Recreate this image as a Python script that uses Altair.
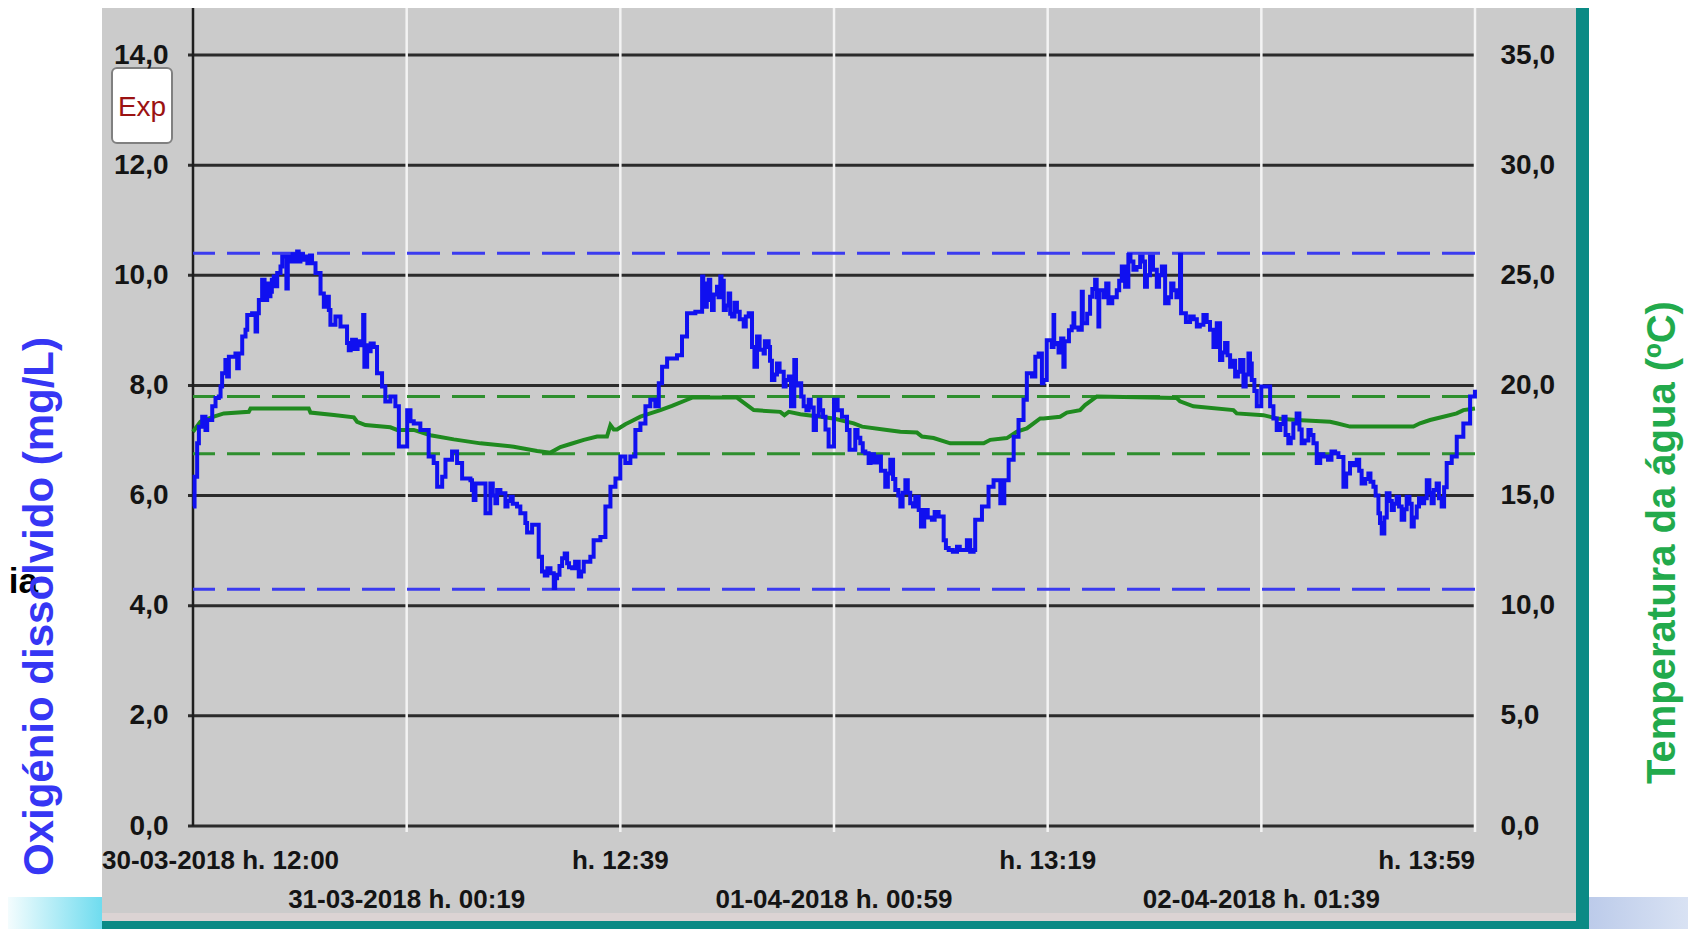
import altair as alt
import pandas as pd

# ---------------- data ----------------
# hours since 30-03-2018 12:00
o2_hours = [
    0.00, 0.09, 0.24, 0.34, 0.53, 0.72, 0.82, 1.11, 1.30, 1.49,
    1.59, 1.68, 1.87, 1.97, 2.07, 2.45, 2.55, 2.64, 2.84, 3.03,
    3.13, 3.41, 3.61, 3.70, 3.80, 3.99, 4.13, 4.28, 4.47, 4.66,
    4.86, 5.05, 5.15, 5.39, 5.47, 6.01, 6.10, 6.49, 6.87, 7.07,
    7.36, 7.55, 7.74, 7.84, 7.93, 8.22, 8.51, 8.89, 8.99, 9.28,
    9.66, 9.82, 9.89, 10.05, 10.43, 10.62, 10.91, 11.10, 11.39, 11.68,
    11.88, 12.36, 12.55, 12.74, 13.12, 13.60, 13.89, 14.09, 14.38, 14.57,
    14.95, 15.24, 15.53, 16.01, 16.20, 16.49, 16.88, 17.16, 17.45, 17.74,
    18.03, 18.32, 18.70, 18.89, 19.18, 19.28, 19.57, 19.95, 20.14, 20.63,
    20.82, 21.01, 21.30, 21.59, 21.88, 22.26, 22.55, 22.93, 23.12, 23.51,
    23.80, 24.09, 24.38, 24.66, 24.95, 25.24, 25.53, 25.82, 26.11, 26.39,
    26.68, 26.88, 27.07, 27.36, 27.93, 28.22, 28.51, 28.99, 29.38, 29.57,
    29.76, 29.95, 30.24, 30.43, 30.63, 30.91, 31.11, 31.39, 31.78, 32.07,
    32.26, 32.40, 32.55, 32.93, 33.22, 33.41, 33.70, 34.09, 34.38, 34.51,
    34.70, 34.95, 35.24, 35.53, 35.82, 36.11, 36.36, 36.68, 36.99, 37.20,
    37.45, 37.74, 37.89, 38.22, 38.51, 38.80, 38.99, 39.47, 39.95, 40.24,
    40.53, 40.82, 41.11, 41.39, 41.68, 41.88, 42.01, 42.20, 42.64, 43.03,
    43.32, 43.61, 44.09, 44.47, 44.66, 45.05, 45.14, 45.53, 45.91, 46.20,
    46.59, 46.82, 47.07, 47.36, 47.64, 47.93, 48.12, 48.41, 48.61, 48.80,
    48.99,
    49.08, 49.27, 49.56, 49.66, 49.70, 49.85, 50.23, 50.30, 50.71, 50.81,
    50.86, 51.10, 51.29, 51.35, 51.77, 52.06, 52.25, 52.30, 52.83, 53.31,
    53.60, 53.79, 53.98, 54.27, 54.66, 54.94, 55.23, 55.62, 55.91, 56.10,
    56.58, 56.96, 57.02, 57.54, 57.93, 58.31, 58.69, 58.89, 59.08, 59.27,
    59.56, 59.85, 60.14, 60.43, 60.62, 60.91, 61.10, 61.39, 61.65, 62.16,
    62.54, 62.93, 63.21, 63.50, 63.69, 63.98, 64.37, 64.66, 64.85, 65.23,
    65.91, 66.39, 66.77, 67.16, 67.44, 67.83, 68.12, 68.41, 68.60, 68.89,
    69.18, 69.46, 69.75, 70.04, 70.33, 70.62, 70.91, 71.20, 71.48, 71.77,
    72.06, 72.35, 72.64, 72.93, 73.31, 73.70, 73.98,
]
o2_values = [
    5.80, 6.34, 6.95, 7.25, 7.43, 7.19, 7.37, 7.62, 7.77, 7.80,
    7.98, 8.22, 8.46, 8.16, 8.52, 8.58, 8.31, 8.58, 8.89, 9.01,
    9.28, 9.31, 8.98, 9.31, 9.55, 9.92, 9.55, 9.85, 9.70, 9.98,
    10.04, 10.16, 10.34, 9.76, 10.34, 10.43, 10.25, 10.34, 10.22, 10.04,
    9.67, 9.43, 9.61, 9.37, 9.10, 9.25, 9.07, 8.77, 8.64, 8.83,
    8.73, 9.28, 8.34, 8.73, 8.70, 8.22, 7.98, 7.71, 7.80, 7.62,
    6.89, 7.55, 7.35, 7.31, 7.19, 6.71, 6.59, 6.16, 6.34, 6.65,
    6.80, 6.59, 6.31, 6.28, 5.92, 6.22, 5.68, 6.22, 5.86, 6.04,
    5.80, 5.98, 5.80, 5.68, 5.50, 5.33, 5.47, 4.89, 4.62, 4.59,
    4.32, 4.56, 4.86, 4.77, 4.68, 4.53, 4.80, 4.89, 5.19, 5.25,
    5.80, 6.16, 6.31, 6.71, 6.59, 6.71, 7.19, 7.31, 7.62, 7.74,
    7.62, 8.04, 8.34, 8.49, 8.55, 8.89, 9.31, 9.34, 9.98, 9.43,
    9.92, 9.37, 9.79, 9.98, 9.37, 9.67, 9.25, 9.34, 9.07, 9.31,
    8.70, 8.34, 8.89, 8.58, 8.70, 8.10, 8.40, 7.98, 8.16, 7.62,
    8.46, 8.04, 7.62, 7.74, 7.19, 7.74, 7.43, 6.89, 7.74, 7.55,
    7.43, 7.19, 6.83, 7.19, 6.95, 6.77, 6.59, 6.71, 6.16, 6.65,
    6.10, 5.80, 6.28, 5.86, 5.98, 5.74, 5.44, 5.74, 5.56, 5.62,
    5.19, 5.01, 5.07, 5.01, 5.19, 5.01, 5.56, 5.80, 6.16, 6.28,
    5.86, 6.28, 6.65, 7.07, 7.37, 7.74, 8.22, 8.16, 8.52, 8.58,
    8.04,
    8.10, 8.82, 8.70, 9.28, 8.75, 8.77, 8.34, 8.80, 9.07, 9.31,
    9.05, 9.01, 9.70, 9.13, 9.61, 9.92, 9.07, 9.73, 9.49, 9.73,
    10.16, 9.79, 10.37, 10.10, 10.34, 9.79, 10.34, 9.79, 10.16, 9.49,
    9.73, 10.37, 9.31, 9.25, 9.07, 9.28, 9.01, 8.70, 9.13, 8.46,
    8.77, 8.34, 8.16, 8.46, 7.98, 8.58, 8.10, 7.62, 7.98, 7.62,
    7.19, 7.43, 6.95, 7.31, 7.49, 6.95, 7.19, 6.95, 6.59, 6.71,
    6.77, 6.16, 6.59, 6.65, 6.22, 6.40, 6.16, 5.68, 5.31, 6.04,
    5.74, 5.98, 5.56, 5.98, 5.44, 5.80, 5.86, 6.28, 5.86, 6.22,
    5.80, 6.59, 6.71, 7.07, 7.31, 7.80, 7.92,
]

# extra readings inside the dense (rapidly oscillating) stretches of the trace
o2_detail_hours = [
    4.35, 4.55, 4.75, 5.60, 5.75, 5.90, 6.20, 6.35, 6.60, 6.75,
    9.10, 9.18, 9.40, 9.50, 10.15, 10.25,
    16.10, 16.30, 17.30, 17.55, 18.15, 18.45, 20.30, 20.45, 20.90, 21.15,
    21.45, 21.70, 22.05, 22.40,
    29.45, 29.65, 29.85, 30.05, 30.33, 30.50, 30.75, 31.00, 31.25, 31.55,
    31.90, 32.70, 33.00, 33.30, 33.55, 33.85, 34.20, 34.80, 35.10, 35.40,
    35.65, 35.95, 36.20, 36.50,
    38.35, 38.65, 39.10, 39.30, 39.70, 40.10, 40.40, 40.70, 40.95, 41.25,
    41.55, 42.40, 42.80, 43.45, 43.85, 44.25, 44.85,
    49.95, 50.10, 50.55, 51.60, 51.90, 52.15, 52.55, 52.70, 53.05, 53.45,
    54.10, 54.45, 54.80, 55.05, 55.40, 55.75, 56.30, 56.45, 56.75, 57.30,
    57.75, 58.10, 58.50, 59.40, 59.70, 60.00, 60.30, 60.75, 61.00, 61.25,
    62.35, 62.75, 63.05, 63.35, 63.85, 64.15, 64.50, 65.05, 65.50, 65.70,
    66.10, 66.55, 66.95, 67.30, 67.65, 67.95, 68.25, 68.50, 68.75, 69.05,
    69.30, 69.60, 69.90, 70.20, 70.45, 70.75, 71.05, 71.35, 71.60, 71.90,
    72.20,
]
o2_detail_values = [
    9.62, 9.92, 9.80, 10.25, 10.38, 10.25, 10.38, 10.28, 10.22, 10.36,
    8.66, 8.83, 8.66, 8.80, 8.62, 8.76,
    6.10, 6.22, 6.00, 6.10, 5.90, 5.85, 4.55, 4.68, 4.50, 4.72,
    4.95, 4.70, 4.80, 4.62,
    9.70, 9.85, 9.55, 9.65, 9.60, 9.90, 9.45, 9.30, 9.50, 9.20,
    9.25, 8.65, 8.80, 8.45, 8.20, 8.25, 8.10, 8.00, 7.80, 7.55,
    7.60, 7.45, 7.55, 7.20,
    7.05, 6.80, 6.75, 6.60, 6.45, 6.40, 6.30, 6.00, 6.05, 6.05,
    5.80, 5.60, 5.70, 5.05, 4.98, 5.01, 4.98,
    8.60, 8.85, 9.00, 9.30, 9.75, 9.60, 9.60, 9.85, 9.60, 9.90,
    10.25, 10.15, 10.25, 10.00, 10.10, 10.00, 9.60, 9.85, 9.60, 9.15,
    9.20, 9.10, 9.15, 8.60, 8.55, 8.45, 8.25, 8.20, 8.40, 7.90,
    7.40, 7.30, 7.10, 7.05, 7.20, 7.00, 7.10, 6.75, 6.65, 6.80,
    6.70, 6.40, 6.55, 6.45, 6.30, 6.25, 6.00, 5.50, 5.60, 5.90,
    5.85, 5.80, 5.75, 5.85, 5.60, 5.95, 5.95, 6.05, 6.10, 5.95,
    6.15,
]

temp_hours = [
    0.00, 0.43, 1.20, 1.78, 3.22, 3.32, 6.68, 6.78, 8.13, 9.28,
    9.47, 9.95, 11.39, 11.78, 12.74, 13.70, 15.05, 16.59, 18.51, 19.86,
    20.63, 21.20, 21.78, 22.55, 23.32, 23.89, 24.09, 24.28, 24.47, 24.95,
    25.24, 25.82, 26.39, 26.97, 27.64, 28.51, 28.80, 31.39, 31.68, 32.07,
    32.36, 33.89, 34.13, 34.38, 35.05, 36.20, 36.97, 38.13, 38.61, 40.05,
    40.82, 41.78, 42.07, 42.74, 43.70, 45.63, 46.01, 46.97, 47.55, 48.12,
    48.51, 48.89, 49.08, 50.04, 50.43, 51.19, 51.48, 52.16, 56.77, 56.96,
    57.73, 60.04, 60.23, 61.77, 62.54, 63.69, 65.62, 66.00, 66.77, 70.43,
    70.81, 71.39, 72.16, 72.93, 73.31, 73.98,
]
temp_values = [
    17.90, 18.35, 18.58, 18.73, 18.80, 18.95, 18.95, 18.77, 18.66, 18.55,
    18.35, 18.20, 18.10, 17.98, 17.98, 17.74, 17.55, 17.37, 17.22, 17.02,
    16.95, 17.20, 17.34, 17.53, 17.68, 17.68, 18.20, 18.00, 18.00, 18.24,
    18.35, 18.58, 18.73, 18.88, 19.07, 19.35, 19.45, 19.45, 19.28, 19.05,
    18.88, 18.80, 18.65, 18.80, 18.69, 18.58, 18.50, 18.28, 18.13, 17.98,
    17.90, 17.86, 17.68, 17.61, 17.37, 17.37, 17.53, 17.61, 17.90, 18.05,
    18.28, 18.50, 18.50, 18.58, 18.77, 18.88, 19.11, 19.50, 19.43, 19.28,
    19.05, 18.88, 18.73, 18.65, 18.50, 18.43, 18.35, 18.28, 18.13, 18.13,
    18.28, 18.43, 18.58, 18.73, 18.88, 18.95,
]

tick_hours = [0.0, 12.331, 24.661, 36.992, 49.322, 61.653, 73.983]
tick_labels = ["30-03-2018 h. 12:00", "31-03-2018 h. 00:19", "h. 12:39",
               "01-04-2018 h. 00:59", "h. 13:19", "02-04-2018 h. 01:39", "h. 13:59"]
tick_rows = [1, 2, 1, 2, 1, 2, 1]
tick_pos = ["first", "mid", "mid", "mid", "mid", "mid", "last"]

o2_ticks = [0, 2, 4, 6, 8, 10, 12, 14]
temp_ticks = [0, 5, 10, 15, 20, 25, 30, 35]
o2_limits = [10.4, 4.3]
temp_limits = [19.5, 16.9]

# ---------------- chart ----------------
W, H = 1282, 771
X_DOMAIN = [0, 73.983]
LABEL_FONT = "Liberation Sans, Arial, sans-serif"
ARIAL = "Liberation Sans, Arial, sans-serif"

xs = alt.Scale(domain=X_DOMAIN, nice=False, zero=False)
ys_o2 = alt.Scale(domain=[0, 14], nice=False, zero=False)
ys_t = alt.Scale(domain=[0, 35], nice=False, zero=False)

o2_df = pd.concat([
    pd.DataFrame({"h": o2_hours, "v": o2_values}),
    pd.DataFrame({"h": o2_detail_hours, "v": o2_detail_values}),
]).sort_values("h", kind="stable").reset_index(drop=True)
t_df = pd.DataFrame({"h": temp_hours, "v": temp_values})
ticks_df = pd.DataFrame({"t": tick_hours, "label": tick_labels,
                         "row": tick_rows, "pos": tick_pos})
o2_grid_df = pd.DataFrame({"v": o2_ticks})
o2_lim_df = pd.DataFrame({"v": o2_limits})
t_lim_df = pd.DataFrame({"v": temp_limits})
one = alt.Data(values=[{"k": 1}])


def box(x1, x2, y1, y2, **kw):
    return alt.Chart(one).mark_rect(**kw).encode(
        x=alt.value(x1), x2=alt.value(x2), y=alt.value(y1), y2=alt.value(y2))


grad_left = box(-193, -91, 842, 882, color=alt.LinearGradient(
    gradient="linear", x1=0, x2=1, y1=0, y2=0,
    stops=[alt.GradientStop(color="#ffffff", offset=0),
           alt.GradientStop(color="#6fdcef", offset=1)]))
grad_right = box(1396, 1503, 842, 882, color=alt.LinearGradient(
    gradient="linear", x1=0, x2=1, y1=0, y2=0,
    stops=[alt.GradientStop(color="#bccbea", offset=0),
           alt.GradientStop(color="#dbe4f4", offset=1)]))
panel = box(-91, 1383, -47, 866, color="#cbcbcb")
strip = box(-91, 1383, 858, 866, color="#dbd3d3")
teal_r = box(1383, 1396, -47, 882, color="#0b8a85")
teal_b = box(-91, 1396, 866, 882, color="#0b8a85")

exp_box = alt.Chart(one).mark_rect(
    color="white", stroke="#808080", strokeWidth=2, cornerRadius=5
).encode(x=alt.value(-81), x2=alt.value(-21), y=alt.value(13), y2=alt.value(88))
exp_txt = alt.Chart(one).mark_text(
    font=ARIAL, fontSize=28, color="#9b1212", align="center", baseline="alphabetic"
).encode(x=alt.value(-51), y=alt.value(61), text=alt.value("Exp"))

ia_txt = alt.Chart(one).mark_text(
    font=ARIAL, fontSize=35, fontWeight="bold", color="black",
    align="right", baseline="alphabetic"
).encode(x=alt.value(-155), y=alt.value(538), text=alt.value("ia"))

hgrid = alt.Chart(o2_grid_df).mark_rule(color="#2b2b2b", strokeWidth=3).encode(
    y=alt.Y("v:Q", scale=ys_o2, axis=None),
    x=alt.value(-5), x2=alt.value(W))

vgrid = alt.Chart(ticks_df).transform_filter("datum.t > 0").mark_rule(
    color="#f3f3f3", strokeWidth=2.5
).encode(x=alt.X("t:Q", scale=xs, axis=None), y=alt.value(-47), y2=alt.value(H + 6))

left_axis_line = alt.Chart(one).mark_rule(color="#1e1e1e", strokeWidth=2.5).encode(
    x=alt.value(0), y=alt.value(-47), y2=alt.value(H))

o2_lim = alt.Chart(o2_lim_df).mark_rule(
    color="#3b3bef", strokeWidth=3, strokeDash=[33, 12]
).encode(y=alt.Y("v:Q", scale=ys_o2, axis=None))

t_lim = alt.Chart(t_lim_df).mark_rule(
    color="#2e8f2e", strokeWidth=3, strokeDash=[33, 12]
).encode(y=alt.Y("v:Q", scale=ys_t, axis=None))

label_expr = "replace(format(datum.value, '.1f'), '.', ',')"

temp_line = alt.Chart(t_df).mark_line(color="#1f8a1f", strokeWidth=4).encode(
    x=alt.X("h:Q", scale=xs, axis=None),
    y=alt.Y("v:Q", scale=ys_t, axis=alt.Axis(
        orient="right", values=temp_ticks, labelExpr=label_expr,
        ticks=False, tickSize=0, domain=False, grid=False, labelPadding=25,
        labelFont=LABEL_FONT, labelFontSize=28, labelFontWeight="bold", labelColor="#141414",
        title="Temperatura da água (ºC)", titleX=187, titleY=487, titleAngle=270,
        titleAlign="center", titleBaseline="middle", titleFont=ARIAL,
        titleFontSize=40, titleFontWeight="bold", titleColor="#22aa4c", zindex=1)))

o2_line = alt.Chart(o2_df).mark_line(
    color="#1010f0", strokeWidth=4, interpolate="step-after"
).encode(
    x=alt.X("h:Q", scale=xs, axis=None),
    y=alt.Y("v:Q", scale=ys_o2, axis=alt.Axis(
        orient="left", values=o2_ticks, labelExpr=label_expr,
        ticks=False, tickSize=0, domain=False, grid=False, labelPadding=25,
        labelFont=LABEL_FONT, labelFontSize=28, labelFontWeight="bold", labelColor="#141414",
        title="Oxigénio dissolvido (mg/L)", titleX=-154, titleY=551, titleAngle=270,
        titleAlign="center", titleBaseline="middle", titleFont=ARIAL,
        titleFontSize=42, titleFontWeight="bold", titleColor="#3636f4", zindex=1)))


def tick_text(filter_expr, align, y, dx=0):
    return alt.Chart(ticks_df).transform_filter(filter_expr).mark_text(
        font=LABEL_FONT, fontSize=26, fontWeight="bold", color="#141414",
        align=align, baseline="middle", dx=dx
    ).encode(x=alt.X("t:Q", scale=xs, axis=None), y=alt.value(y), text="label:N")


lab_first = tick_text("datum.pos == 'first'", "left", 806, dx=-91)
lab_mid1 = tick_text("datum.pos == 'mid' && datum.row == 1", "center", 806)
lab_last = tick_text("datum.pos == 'last'", "right", 806)
lab_row2 = tick_text("datum.row == 2", "center", 845)

chart = alt.layer(
    grad_left, grad_right, panel, strip, teal_r, teal_b, exp_box, exp_txt, ia_txt,
    hgrid, vgrid, left_axis_line, o2_lim, t_lim, temp_line, o2_line,
    lab_first, lab_mid1, lab_last, lab_row2,
).resolve_scale(y="independent").properties(
    width=W, height=H, autosize="none",
    padding={"left": 185, "top": 47, "right": 213, "bottom": 103},
    background="white",
).configure_view(stroke=None)

chart.save("out.html", embed_options={"renderer": "svg", "actions": False})
